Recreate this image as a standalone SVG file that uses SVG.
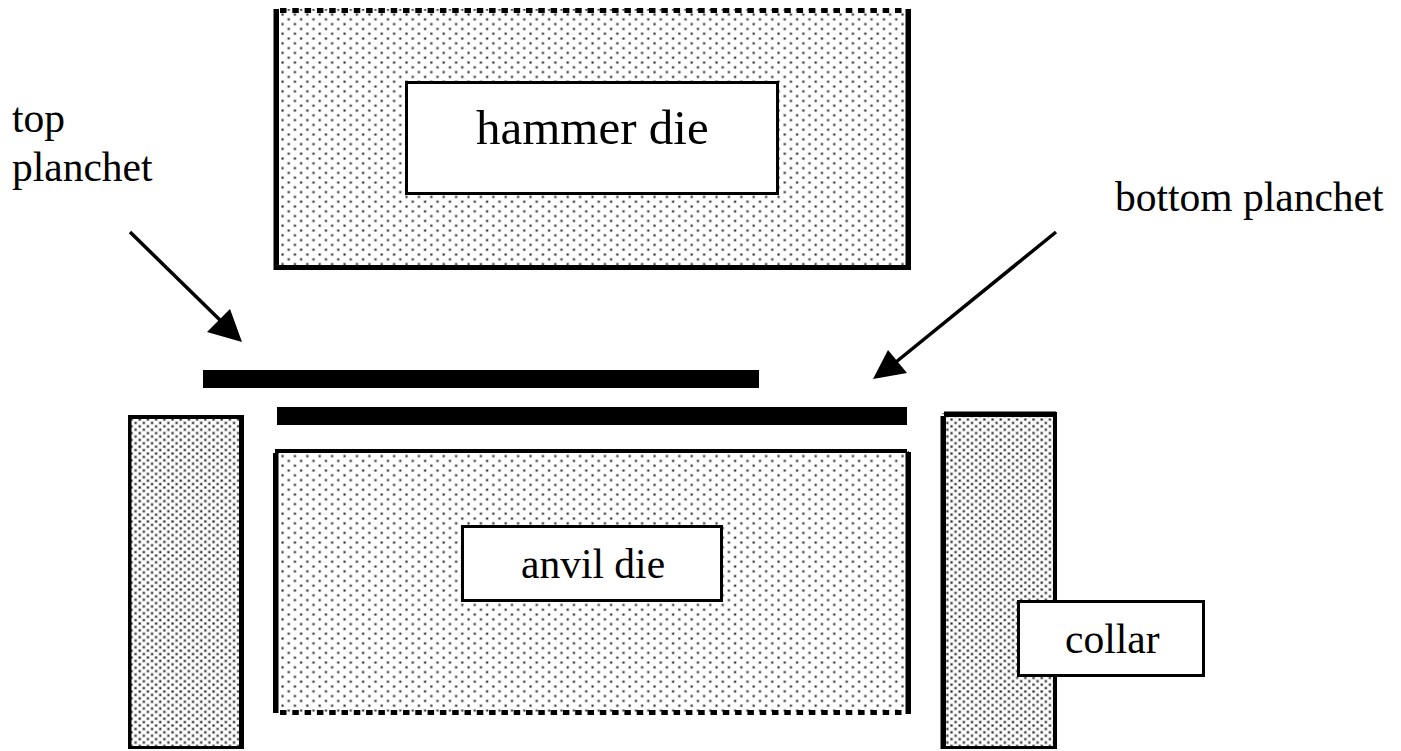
<svg xmlns="http://www.w3.org/2000/svg" width="1401" height="751" viewBox="0 0 1401 751">
<style>
text{font-family:"Liberation Serif","Times New Roman",serif;fill:#000}
.sm{font-size:41.500px}
.box{fill:#fff;stroke:#000;stroke-width:3}
.k{fill:#000}
.ln{stroke:#000;stroke-width:3.500;fill:none}
.dash{stroke:#000;stroke-width:5;stroke-dasharray:6.500 5.800;fill:none}
</style>
<defs>
<pattern id="dieDots" x="281" y="13" width="12.400" height="9.600" patternUnits="userSpaceOnUse">
<rect x="0" y="0" width="3" height="3" fill="#bbb"/>
<rect x="0.800" y="0.800" width="1.500" height="1.500" fill="#111"/>
<rect x="6.200" y="4.800" width="3" height="3" fill="#bbb"/>
<rect x="7" y="5.600" width="1.500" height="1.500" fill="#111"/>
</pattern>
<pattern id="collarDots" x="130" y="418" width="8.200" height="6.800" patternUnits="userSpaceOnUse">
<rect x="0" y="0" width="3" height="3" fill="#aaa"/>
<rect x="0.800" y="0.800" width="1.500" height="1.500" fill="#111"/>
<rect x="4.100" y="3.400" width="3" height="3" fill="#aaa"/>
<rect x="4.900" y="4.200" width="1.500" height="1.500" fill="#111"/>
</pattern>
</defs>
<rect width="1401" height="751" fill="#fff"/>
<g id="hammer-block">
<rect x="275" y="9" width="634" height="259" fill="url(#dieDots)"/>
<path class="dash" d="M280 10.500H906"/>
<rect class="k" x="273.500" y="9" width="5.500" height="261"/>
<rect class="k" x="905.500" y="9" width="5.500" height="261"/>
<rect class="k" x="274" y="265" width="637" height="5"/>
</g>
<g id="hammer-die">
<rect class="box" x="406.500" y="82.500" width="371" height="111"/>
<text x="476" y="144" font-size="49">hammer die</text>
</g>
<g id="top-planchet">
<rect class="k" x="203" y="370" width="556" height="18"/>
<text class="sm" x="12" y="132">top</text>
<text class="sm" x="12" y="181">planchet</text>
</g>
<g id="bottom-planchet">
<rect class="k" x="277" y="407" width="630" height="18"/>
<text class="sm" x="1115" y="211">bottom planchet</text>
</g>
<g id="left-collar">
<rect x="129" y="416" width="114" height="332" fill="url(#collarDots)"/>
<rect class="k" x="128" y="415" width="115" height="4"/>
<rect class="k" x="128" y="415" width="3.500" height="334"/>
<rect class="k" x="239" y="415" width="5" height="334"/>
<rect class="k" x="128" y="746" width="116" height="3"/>
</g>
<g id="right-collar">
<rect x="942" y="413" width="114" height="335" fill="url(#collarDots)"/>
<rect class="k" x="944" y="411.500" width="112" height="5.500"/>
<rect class="k" x="940.500" y="416" width="5.500" height="333"/>
<rect class="k" x="1053" y="412" width="4" height="337"/>
<rect class="k" x="941" y="746" width="116" height="3"/>
</g>
<g id="anvil-block">
<rect x="275" y="451" width="634" height="262" fill="url(#dieDots)"/>
<rect class="k" x="275" y="449" width="632" height="4"/>
<rect class="k" x="273" y="453" width="5.500" height="260"/>
<rect class="k" x="905.500" y="452" width="5.500" height="262"/>
<path class="dash" d="M280 712.500H905"/>
</g>
<g id="anvil-die">
<rect class="box" x="462.500" y="526.500" width="259" height="74"/>
<text class="sm" x="521" y="578">anvil die</text>
</g>
<g id="collar">
<rect class="box" x="1018.500" y="601.500" width="185" height="74"/>
<text class="sm" x="1065" y="653">collar</text>
</g>
<g id="connectors">
<path class="ln" d="M130 232L222 322"/>
<polygon class="k" points="242,342 230,309 207,332"/>
<path class="ln" d="M1056 232L896 362"/>
<polygon class="k" points="873,379 888,350 907,373"/>
</g>
</svg>
